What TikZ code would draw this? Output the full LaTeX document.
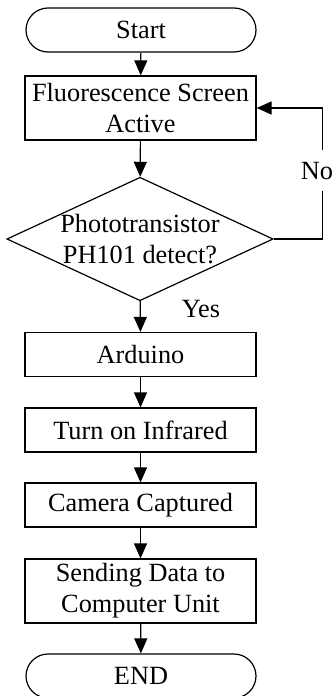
\documentclass[tikz,border=0pt]{standalone}
\usepackage{fontspec}
\setmainfont{Liberation Serif}
\usetikzlibrary{arrows.meta,shapes.geometric}
\begin{document}
\begin{tikzpicture}[x=1pt,y=-1pt,
  every node/.style={font=\fontsize{26.3}{31}\selectfont, align=center, inner sep=0pt},
  terminal/.style={draw, line width=1.2pt, rounded corners=22pt, minimum width=230pt, minimum height=44pt},
  procbox/.style={draw, line width=1.2pt, minimum width=231pt, minimum height=44pt},
  decision/.style={draw, line width=1.2pt, shape=diamond, aspect=2.156, minimum width=263pt, minimum height=122pt},
  arr/.style={line width=1.2pt, -{Triangle[length=15pt,width=13pt]}},
  lbl/.style={anchor=base}
]
\useasboundingbox (0,0) rectangle (332,696);

\node[terminal] (start) at (141,30) {Start};
\node[procbox, minimum height=64pt] (screen) at (140.5,108) {Fluorescence Screen\\Active};
\node[decision] (detect) at (140,239) {Phototransistor\\PH101 detect?};
\node[procbox] (arduino) at (140.5,354.5) {Arduino};
\node[procbox] (infrared) at (140.5,430) {Turn on Infrared};
\node[procbox] (camera) at (140.5,505) {Camera Captured};
\node[procbox, minimum height=64pt] (send) at (140.5,591) {Sending Data to\\Computer Unit};
\node[terminal] (finish) at (141,676) {END};

\draw[arr] (start) -- (screen);
\draw[arr] (screen) -- (detect);
\draw[arr] (detect) -- (arduino);
\draw[arr] (arduino) -- (infrared);
\draw[arr] (infrared) -- (camera);
\draw[arr] (camera) -- (send);
\draw[arr] (send) -- (finish);

% "No" branch loops back to the screen step
\draw[arr] (detect.east) -- ++(49,0) |- (screen.east);
\node[lbl, fill=white, inner xsep=1pt, inner ysep=12pt] (no) at (317,179) {No};
\node[lbl] (yes) at (201,317) {Yes};
\end{tikzpicture}
\end{document}
